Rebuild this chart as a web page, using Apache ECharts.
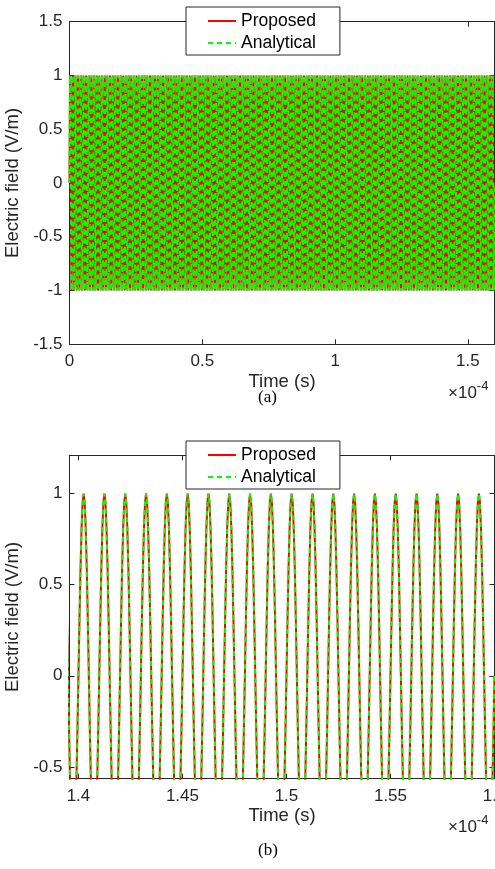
<!DOCTYPE html>
<html>
<head>
<meta charset="utf-8">
<script src="https://cdn.jsdelivr.net/npm/echarts@6/dist/echarts.min.js"></script>
<style>
  html, body { margin: 0; padding: 0; background: #ffffff; }
  #chart { width: 495px; height: 869px; }
</style>
</head>
<body>
<div id="chart"></div>
<script>
// Time is expressed in units of 1e-4 s (the axis multiplier).
const seriesNames = ['Proposed', 'Analytical'];
const cyclePeriod = 0.01;      // one period = 1 µs
const cycleCount = 160;        // 0 … 1.6e-4 s

// One period of the field (V/m), 20 samples starting at an upward zero crossing.
const proposedCycle = [0, 0.31, 0.59, 0.81, 0.95, 1, 0.95, 0.81, 0.59, 0.31,
                       0, -0.31, -0.59, -0.81, -0.95, -1, -0.95, -0.81, -0.59, -0.31];
const analyticalCycle = [0, 0.31, 0.59, 0.81, 0.95, 1, 0.95, 0.81, 0.59, 0.31,
                         0, -0.31, -0.59, -0.81, -0.95, -1, -0.95, -0.81, -0.59, -0.31];

// Axis ranges and tick values
const xRangeA = [0, 1.6];
const yRangeA = [-1.5, 1.5];
const xTicksA = [0, 0.5, 1, 1.5];
const yTicksA = [-1.5, -1, -0.5, 0, 0.5, 1, 1.5];

const xRangeB = [1.3957, 1.6];
const yRangeB = [-0.565, 1.21];
const xTicksB = [1.4, 1.45, 1.5, 1.55, 1.6];
const yTicksB = [-0.5, 0, 0.5, 1];

const captions = ['(a)', '(b)'];

function buildTrace(cycle, tFrom) {
  const pts = [];
  const n = cycle.length;
  for (let k = 0; k < cycleCount; k++) {
    for (let j = 0; j < n; j++) {
      const t = +((k + j / n) * cyclePeriod).toFixed(6);
      if (t >= tFrom) pts.push([t, cycle[j]]);
    }
  }
  pts.push([+(cycleCount * cyclePeriod).toFixed(6), cycle[0]]);
  return pts;
}

const FONT = '"Liberation Sans", Arial, Helvetica, sans-serif';
const AX = '#262626';
const DASH = [5, 4];

function mainX(grid, range, ticks) {
  return {
    type: 'value', gridIndex: grid, position: 'bottom',
    min: range[0], max: range[1],
    name: 'Time (s)', nameLocation: 'middle', nameGap: 28,
    nameTextStyle: { fontFamily: FONT, fontSize: 18.5, color: AX },
    axisLine: { show: true, onZero: false, lineStyle: { color: AX, width: 1 } },
    axisTick: { show: true, inside: true, length: 5, customValues: ticks, lineStyle: { color: AX } },
    axisLabel: { show: true, customValues: ticks, margin: 9, fontFamily: FONT, fontSize: 17, color: AX },
    splitLine: { show: false }
  };
}
function mirrorX(grid, range, ticks) {
  return {
    type: 'value', gridIndex: grid, position: 'top',
    min: range[0], max: range[1],
    axisLine: { show: true, onZero: false, lineStyle: { color: AX, width: 1 } },
    axisTick: { show: true, inside: true, length: 5, customValues: ticks, lineStyle: { color: AX } },
    axisLabel: { show: false },
    splitLine: { show: false }
  };
}
function mainY(grid, range, ticks) {
  return {
    type: 'value', gridIndex: grid, position: 'left',
    min: range[0], max: range[1],
    name: 'Electric field (V/m)', nameLocation: 'middle', nameGap: 35,
    nameTextStyle: { fontFamily: FONT, fontSize: 18.5, color: AX },
    axisLine: { show: true, onZero: false, lineStyle: { color: AX, width: 1 } },
    axisTick: { show: true, inside: true, length: 5, customValues: ticks, lineStyle: { color: AX } },
    axisLabel: { show: true, customValues: ticks, margin: 7, fontFamily: FONT, fontSize: 17, color: AX },
    splitLine: { show: false }
  };
}
function mirrorY(grid, range, ticks) {
  return {
    type: 'value', gridIndex: grid, position: 'right',
    min: range[0], max: range[1],
    axisLine: { show: true, onZero: false, lineStyle: { color: AX, width: 1 } },
    axisTick: { show: true, inside: true, length: 5, customValues: ticks, lineStyle: { color: AX } },
    axisLabel: { show: false },
    splitLine: { show: false }
  };
}

function legendAt(top) {
  return {
    data: seriesNames, orient: 'vertical', left: 186, top: top,
    backgroundColor: '#ffffff', borderColor: AX, borderWidth: 1, borderRadius: 0,
    padding: [5, 24, 3, 21], itemGap: 4, itemWidth: 28, itemHeight: 14,
    itemStyle: { opacity: 0 },
    lineStyle: { width: 2 },
    textStyle: { fontFamily: FONT, fontSize: 17.5, color: '#000000', lineHeight: 18 },
    selectedMode: false
  };
}

function seriesFor(xi, yi, tFrom) {
  return [
    {
      name: seriesNames[0], type: 'line', xAxisIndex: xi, yAxisIndex: yi,
      data: buildTrace(proposedCycle, tFrom), symbol: 'none', clip: true,
      lineStyle: { color: '#ff0000', width: 2 }, itemStyle: { color: '#ff0000' }
    },
    {
      name: seriesNames[1], type: 'line', xAxisIndex: xi, yAxisIndex: yi,
      data: buildTrace(analyticalCycle, tFrom), symbol: 'none', clip: true,
      lineStyle: { color: '#00ff00', width: 2, type: DASH }, itemStyle: { color: '#00ff00' }
    }
  ];
}

function multiplier(left, top) {
  return {
    type: 'text', left: left, top: top, silent: true,
    style: {
      text: '{b|×10}{s|-4}',
      rich: {
        b: { fontFamily: FONT, fontSize: 17, fill: AX, verticalAlign: 'bottom' },
        s: { fontFamily: FONT, fontSize: 13, fill: AX, verticalAlign: 'top', padding: [0, 0, 9, 0] }
      }
    }
  };
}

const chart = echarts.init(document.getElementById('chart'), null, { renderer: 'canvas' });
chart.setOption({
  animation: false,
  backgroundColor: '#ffffff',
  grid: [
    { left: 69.5, right: 0.5, top: 21.7, bottom: 524.7, containLabel: false, outerBoundsMode: 'none' },
    { left: 69.5, right: 0.5, top: 455.3, bottom: 90.3, containLabel: false, outerBoundsMode: 'none' }
  ],
  xAxis: [
    mainX(0, xRangeA, xTicksA), mirrorX(0, xRangeA, xTicksA),
    mainX(1, xRangeB, xTicksB), mirrorX(1, xRangeB, xTicksB)
  ],
  yAxis: [
    mainY(0, yRangeA, yTicksA), mirrorY(0, yRangeA, yTicksA),
    mainY(1, yRangeB, yTicksB), mirrorY(1, yRangeB, yTicksB)
  ],
  legend: [legendAt(7), legendAt(441)],
  series: [].concat(seriesFor(0, 0, 0), seriesFor(2, 2, 1.38)),
  graphic: [
    multiplier(448, 380),
    multiplier(448, 814),
    { type: 'text', left: 258, top: 389, silent: true,
      style: { text: captions[0], fontFamily: '"Liberation Serif", "Times New Roman", serif', fontSize: 17, fill: '#000' } },
    { type: 'text', left: 258, top: 842, silent: true,
      style: { text: captions[1], fontFamily: '"Liberation Serif", "Times New Roman", serif', fontSize: 17, fill: '#000' } }
  ]
});
</script>
</body>
</html>
